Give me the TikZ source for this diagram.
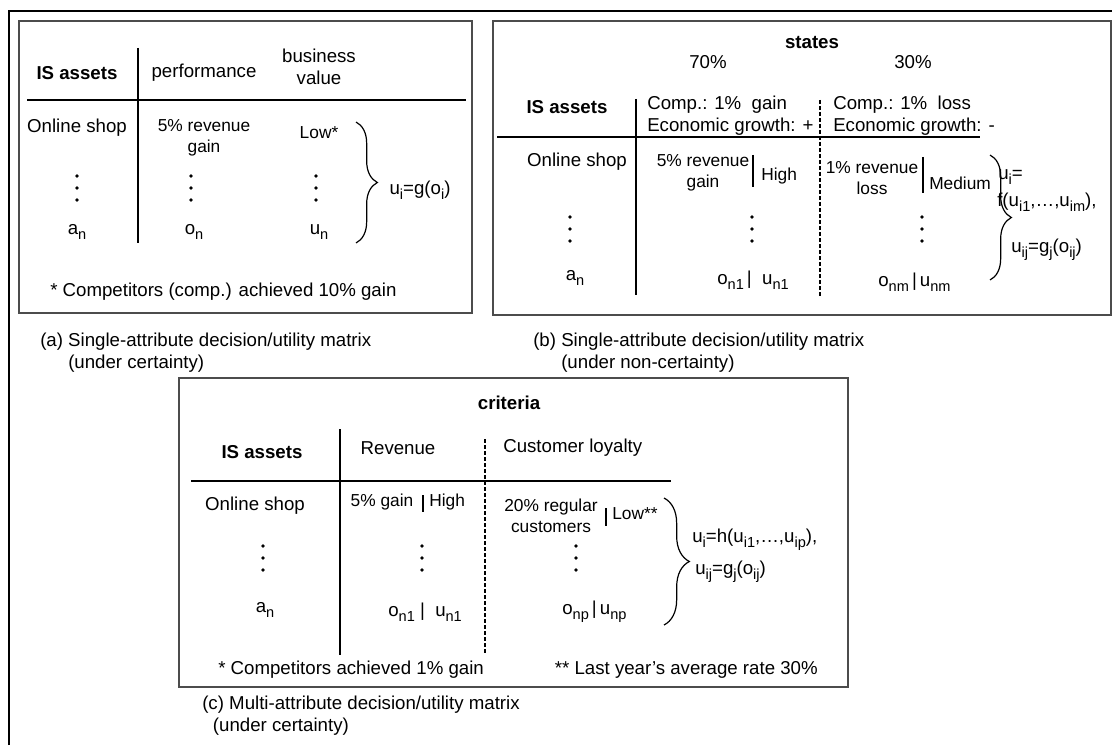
\documentclass[tikz,border=0pt]{standalone}
\usepackage{fontspec}
\usepackage{graphicx}
\setmainfont{Liberation Sans}
\usetikzlibrary{decorations.pathreplacing}
\newcommand\sbs[1]{\raisebox{-.28em}{\scalebox{.78}{#1}}}
\newcommand\colDots[2]{\foreach \d in {-12,0,12} {\fill (#1,#2+\d) circle (1.4pt);}}

\begin{document}
\begin{tikzpicture}[x=0.75pt, y=-0.75pt,
    cell/.style={inner sep=0pt, font=\fontsize{14}{16.5}\selectfont},
    smalltxt/.style={inner sep=0pt, align=center, font=\fontsize{13}{15.5}\selectfont},
    head/.style={inner sep=0pt, font=\fontsize{14}{16.5}\selectfont\bfseries},
    panel/.style={draw=black!70, line width=1.2pt},
    tabrule/.style={line width=1pt},
    tabdash/.style={line width=1.2pt, dash pattern=on 3pt off 1.5pt},
    curly/.style={decorate, decoration={brace, amplitude=#1}, line width=0.9pt},
    curly/.default=16pt]
      \useasboundingbox (0,0) rectangle (1112,745);
      \draw [line width=1.5pt] (9,745) -- (9,11) -- (1112,11);

      % (a)
      \draw [panel] (19,21) rectangle (472,313);
      \node [head] (aHead) at (77,73) {IS assets};
      \node [cell] (aPerf) at (204,73) {performance};
      \node [cell, align=center] (aValue) at (319,67) {business\\value};
      \draw [tabrule] (138,48) -- (138,243);
      \draw [tabrule] (27,100) -- (466,100);
      \node [cell] (aShop) at (77,128) {Online shop};
      \node [smalltxt] (aGain) at (204,138) {5\% revenue\\gain};
      \node [smalltxt] (aLow) at (319,133) {Low*};
      \colDots{77}{188} \colDots{191}{188} \colDots{316}{188}
      \node [cell] (aAn) at (77,232) {a\sbs{n}};
      \node [cell] (aOn) at (194,232) {o\sbs{n}};
      \node [cell] (aUn) at (319,232) {u\sbs{n}};
      \draw [curly] (356,122) -- (356,243);
      \node [cell] (aForm) at (420,190) {u\sbs{i}=g(o\sbs{i})};
      \node [cell, anchor=west] (aNote) at (50,292) {* Competitors (comp.) achieved 10\% gain};
      \node [cell, anchor=west, align=left] (aCap) at (40,353)
        {(a) Single-attribute decision/utility matrix\\\phantom{(a) }(under certainty)};

      % (b)
      \draw [panel] (493,21) rectangle (1111,315);
      \node [head] (bStates) at (812,43) {states};
      \node [cell] (bProbA) at (708,62) {70\%};
      \node [cell] (bProbB) at (913,62) {30\%};
      \node [head] (bHead) at (567,107) {IS assets};
      \draw [tabrule] (636,99) -- (636,295);
      \draw [tabrule] (497,137) -- (980,137);
      \draw [tabdash] (820,100) -- (820,297);
      \node [cell, anchor=west, align=left] (bStateA) at (647,116) {Comp.: 1\%\ \ gain\\Economic growth: +};
      \node [cell, anchor=west, align=left] (bStateB) at (833,116) {Comp.: 1\%\ \ loss\\Economic growth: -};
      \node [cell] (bShop) at (577,162) {Online shop};
      \node [smalltxt] (bGain) at (703,173) {5\% revenue\\gain};
      \draw [tabrule] (753,155) -- (753,187);
      \node [smalltxt, anchor=west] (bHigh) at (761,176) {High};
      \node [smalltxt] (bLoss) at (872,178) {1\% revenue\\loss};
      \draw [tabrule] (923,157) -- (923,193);
      \node [smalltxt, anchor=west] (bMed) at (929,183) {Medium};
      \colDots{570}{229} \colDots{752}{229} \colDots{922}{229}
      \node [cell] (bAn) at (575,278) {a\sbs{n}};
      \node [cell, anchor=west] (bOne) at (717,280) {o\sbs{n1}\,|\ \ u\sbs{n1}};
      \node [cell, anchor=west] (bOm) at (878,282) {o\sbs{nm}\,|\,u\sbs{nm}};
      \draw [curly] (990,155) -- (990,280);
      \node [cell, anchor=west] (bFormA) at (998,177) {u\sbs{i}=};
      \node [cell, anchor=west] (bFormB) at (997,202) {f(u\sbs{i1},\dots,u\sbs{im}),};
      \node [cell, anchor=west] (bFormC) at (1011,250) {u\sbs{ij}=g\sbs{j}(o\sbs{ij})};
      \node [cell, anchor=west, align=left] (bCap) at (533,353)
        {(b) Single-attribute decision/utility matrix\\\phantom{(b) }(under non-certainty)};

      % (c)
      \draw [panel] (179,378) rectangle (848,687);
      \node [head] (cCrit) at (509,403) {criteria};
      \node [head] (cHead) at (262,452) {IS assets};
      \draw [tabrule] (340,429) -- (340,655);
      \draw [tabrule] (191,481) -- (671,481);
      \draw [tabdash] (485,439) -- (485,655);
      \node [cell] (cRev) at (398,448) {Revenue};
      \node [cell, anchor=west] (cLoyal) at (503,448) {Customer loyalty};
      \node [cell] (cShop) at (255,506) {Online shop};
      \node [smalltxt] (cGain) at (382,502) {5\% gain};
      \draw [tabrule] (423,495) -- (423,512);
      \node [smalltxt, anchor=west] (cHigh) at (429,502) {High};
      \node [smalltxt] (cRegular) at (551,516) {20\% regular\\customers};
      \draw [tabrule] (606,508) -- (606,526);
      \node [smalltxt, anchor=west] (cLow) at (612,514) {Low**};
      \colDots{263}{558} \colDots{422}{558} \colDots{576}{558}
      \node [cell] (cAn) at (265,610) {a\sbs{n}};
      \node [cell, anchor=west] (cOne) at (388,612) {o\sbs{n1}\ |\ \ u\sbs{n1}};
      \node [cell, anchor=west] (cOp) at (562,612) {o\sbs{np}\,|\,u\sbs{np}};
      \draw [curly=19pt] (664,498) -- (664,625);
      \node [cell, anchor=west] (cFormA) at (692,540) {u\sbs{i}=h(u\sbs{i1},\dots,u\sbs{ip}),};
      \node [cell, anchor=west] (cFormB) at (695,572) {u\sbs{ij}=g\sbs{j}(o\sbs{ij})};
      \node [cell, anchor=west] (cNoteA) at (218,670) {* Competitors achieved 1\% gain};
      \node [cell, anchor=east] (cNoteB) at (818,670) {** Last year's average rate 30\%};
      \node [cell, anchor=west, align=left] (cCap) at (202,716)
        {(c) Multi-attribute decision/utility matrix\\\hspace*{8pt}(under certainty)};
\end{tikzpicture}
\end{document}
